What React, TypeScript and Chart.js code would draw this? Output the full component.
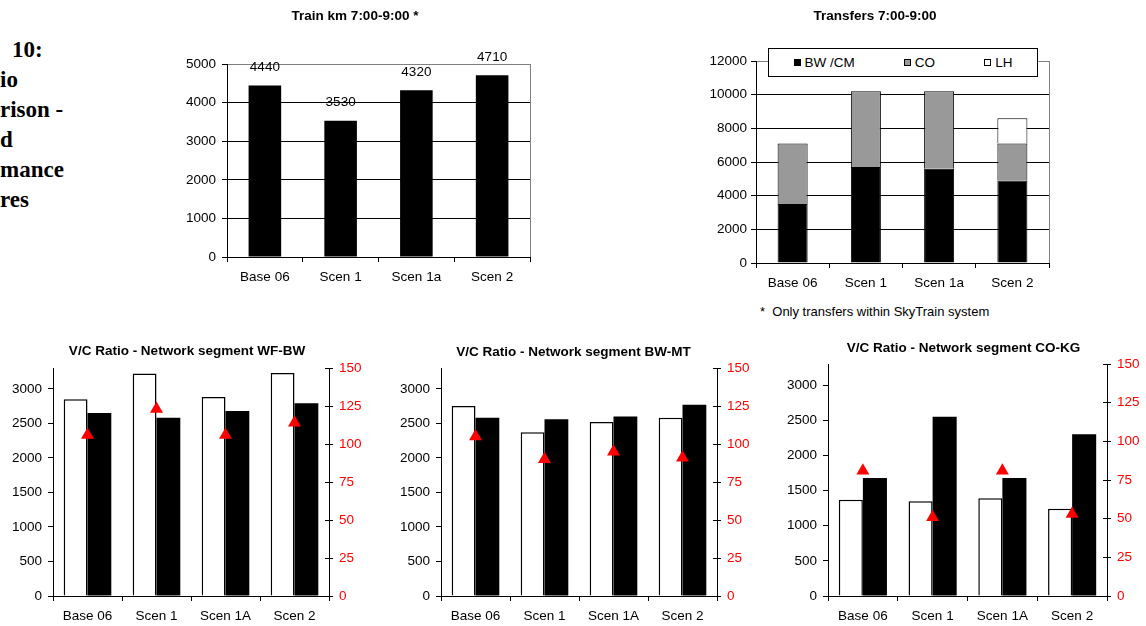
import React, { useEffect, useRef } from 'react';
import { Chart, registerables } from 'chart.js';

Chart.register(...registerables);

// ---------- data ----------
const headingLines = ['10:', 'io', 'rison -', 'd', 'mance', 'res'];

const trainCategories = ['Base 06', 'Scen 1', 'Scen 1a', 'Scen 2'];
const trainKm = [4440, 3530, 4320, 4710];

const transferCategories = ['Base 06', 'Scen 1', 'Scen 1a', 'Scen 2'];
const transferSeries = ['BW /CM', 'CO', 'LH'];
const transferColors = ['#000000', '#999999', '#FFFFFF'];
const transfersBWCM = [3500, 5700, 5600, 4900];
const transfersCO = [3600, 4500, 4600, 2200];
const transfersLH = [null, null, null, 1500];
const transferNote = '*  Only transfers within SkyTrain system';

const vcCategories = ['Base 06', 'Scen 1', 'Scen 1A', 'Scen 2'];
const vcLeftTicks = [0, 500, 1000, 1500, 2000, 2500, 3000];
const vcRightTicks = [0, 25, 50, 75, 100, 125, 150];
const wfbwWhite = [2850, 3220, 2880, 3230];
const wfbwBlack = [2650, 2580, 2680, 2790];
const wfbwRatio = [106, 123, 106, 114];
const bwmtWhite = [2750, 2370, 2520, 2580];
const bwmtBlack = [2580, 2560, 2600, 2770];
const bwmtRatio = [105, 90, 95, 91];
const cokgWhite = [1370, 1350, 1390, 1240];
const cokgBlack = [1680, 2550, 1680, 2300];
const cokgRatio = [81, 51, 81, 53];

// ---------- styling helpers ----------
const FONT = '"Liberation Sans", Arial, Helvetica, sans-serif';
const tickFont = { family: FONT, size: 13.5 };
const titleFont = { family: FONT, size: 13.5, weight: 'bold' as const };
const GRAY_LINE = '#808080';
const plainNumber = (v: any) => String(v);

const alignPx = (v: number) => Math.round(v - 0.5) + 0.5;

const rightBorder = {
  id: 'rightBorder',
  beforeDatasetsDraw(chart: any) {
    const { ctx, chartArea: a } = chart;
    ctx.save();
    ctx.strokeStyle = GRAY_LINE;
    ctx.lineWidth = 1;
    const x = alignPx(a.right);
    ctx.beginPath();
    ctx.moveTo(x, a.top);
    ctx.lineTo(x, a.bottom);
    ctx.stroke();
    ctx.restore();
  },
};

const barValueLabels = {
  id: 'barValueLabels',
  afterDatasetsDraw(chart: any) {
    const ctx = chart.ctx;
    const meta = chart.getDatasetMeta(0);
    const data = chart.data.datasets[0].data;
    ctx.save();
    ctx.font = `13.5px ${FONT}`;
    ctx.fillStyle = '#000';
    ctx.textAlign = 'center';
    ctx.textBaseline = 'middle';
    meta.data.forEach((el: any, i: number) => {
      ctx.fillText(String(data[i]), el.x, el.y - 18);
    });
    ctx.restore();
  },
};

const innerRightTicks = {
  id: 'innerRightTicks',
  afterDraw(chart: any) {
    const s = chart.scales.y2;
    if (!s) return;
    const ctx = chart.ctx;
    ctx.save();
    ctx.strokeStyle = '#000';
    ctx.lineWidth = 1;
    ctx.beginPath();
    s.ticks.forEach((t: any) => {
      const y = alignPx(s.getPixelForValue(t.value));
      ctx.moveTo(s.left - 4, y);
      ctx.lineTo(s.left, y);
    });
    ctx.stroke();
    ctx.restore();
  },
};

const fixedTicks = (values: number[]) => (s: any) => {
  s.ticks = values.map((v) => ({ value: v }));
};

const baseOptions = {
  responsive: false,
  animation: false,
  devicePixelRatio: 1,
  events: [] as any[],
};

function categoryAxis(height: number, pad: number) {
  return {
    offset: true,
    grid: { offset: true, drawOnChartArea: false, tickLength: 5, color: '#000', lineWidth: 1 },
    border: { color: '#000', width: 1 },
    ticks: { color: '#000', font: tickFont, padding: pad, maxRotation: 0, autoSkip: false },
    afterFit: (s: any) => {
      s.height = height;
    },
  };
}

// ---------- chart configs ----------
function trainConfig(): any {
  return {
    type: 'bar',
    data: {
      labels: trainCategories,
      datasets: [
        {
          label: 'Train km',
          data: trainKm,
          backgroundColor: '#000',
          borderWidth: 0,
          barPercentage: 1,
          categoryPercentage: 0.43,
        },
      ],
    },
    options: {
      ...baseOptions,
      layout: { padding: { left: 0, right: 20, top: 0, bottom: 0 } },
      plugins: {
        legend: { display: false },
        tooltip: { enabled: false },
        title: {
          display: true,
          text: 'Train km 7:00-9:00 *',
          color: '#000',
          font: titleFont,
          padding: { top: 7.9, bottom: 39.9 },
        },
      },
      scales: {
        x: categoryAxis(43, 7),
        y: {
          min: 0,
          max: 5000,
          ticks: { stepSize: 1000, color: '#000', font: tickFont, padding: 6, callback: plainNumber },
          grid: {
            color: (c: any) => (c.tick && c.tick.value === 5000 ? GRAY_LINE : '#000'),
            tickColor: '#000',
            tickLength: 5,
          },
          border: { color: '#000' },
          afterFit: (s: any) => {
            s.width = 47;
          },
        },
      },
    },
    plugins: [rightBorder, barValueLabels],
  };
}

function transferConfig(): any {
  const series = [transfersBWCM, transfersCO, transfersLH];
  return {
    type: 'bar',
    data: {
      labels: transferCategories,
      datasets: series.map((d, i) => ({
        label: transferSeries[i],
        data: d,
        backgroundColor: transferColors[i],
        borderColor: '#000',
        borderWidth: 1,
        barPercentage: 1,
        categoryPercentage: 0.41,
      })),
    },
    options: {
      ...baseOptions,
      layout: { padding: { left: 0, right: 97, top: 0, bottom: 0 } },
      plugins: {
        legend: { display: false },
        tooltip: { enabled: false },
        title: {
          display: true,
          text: 'Transfers 7:00-9:00',
          color: '#000',
          font: titleFont,
          padding: { top: 7.9, bottom: 36.9 },
        },
      },
      scales: {
        x: { ...categoryAxis(37, 7), stacked: true },
        y: {
          stacked: true,
          min: 0,
          max: 12000,
          ticks: { stepSize: 2000, color: '#000', font: tickFont, padding: 4, callback: plainNumber },
          grid: {
            color: (c: any) => (c.tick && c.tick.value === 12000 ? GRAY_LINE : '#000'),
            tickColor: '#000',
            tickLength: 5,
          },
          border: { color: '#000' },
          afterFit: (s: any) => {
            s.width = 55;
          },
        },
      },
    },
    plugins: [rightBorder],
  };
}

function vcConfig(
  title: string,
  white: number[],
  black: number[],
  ratio: number[],
  yL: number,
  yR: number,
  padTop: number,
  padBottom: number,
  xHeight: number
): any {
  return {
    type: 'bar',
    data: {
      labels: vcCategories,
      datasets: [
        {
          type: 'bar',
          label: 'Capacity',
          data: white,
          backgroundColor: '#fff',
          borderColor: '#000',
          borderWidth: 1.5,
          barPercentage: 1,
          categoryPercentage: 0.69,
          yAxisID: 'y',
          order: 1,
        },
        {
          type: 'bar',
          label: 'Volume',
          data: black,
          backgroundColor: '#000',
          borderColor: '#000',
          borderWidth: 0,
          barPercentage: 1,
          categoryPercentage: 0.69,
          yAxisID: 'y',
          order: 1,
        },
        {
          type: 'line',
          label: 'V/C',
          data: ratio,
          yAxisID: 'y2',
          showLine: false,
          pointStyle: 'triangle',
          pointRadius: 7.5,
          pointBackgroundColor: '#ff0000',
          pointBorderColor: '#ff0000',
          pointBorderWidth: 0,
          order: 0,
        },
      ],
    },
    options: {
      ...baseOptions,
      layout: { padding: 0 },
      plugins: {
        legend: { display: false },
        tooltip: { enabled: false },
        title: {
          display: true,
          text: title,
          color: '#000',
          font: titleFont,
          padding: { top: padTop, bottom: padBottom },
        },
      },
      scales: {
        x: categoryAxis(xHeight, 7),
        y: {
          position: 'left',
          min: 0,
          max: 3300,
          afterBuildTicks: fixedTicks(vcLeftTicks),
          ticks: { color: '#000', font: tickFont, padding: 6, callback: plainNumber },
          grid: { drawOnChartArea: false, tickLength: 5, color: '#000' },
          border: { color: '#000' },
          afterFit: (s: any) => {
            s.width = yL;
          },
        },
        y2: {
          position: 'right',
          min: 0,
          max: 150,
          afterBuildTicks: fixedTicks(vcRightTicks),
          ticks: { color: '#ff0000', font: tickFont, padding: 6, callback: plainNumber },
          grid: { drawOnChartArea: false, tickLength: 4, color: '#000' },
          border: { color: '#000' },
          afterFit: (s: any) => {
            s.width = yR;
          },
        },
      },
    },
    plugins: [innerRightTicks],
  };
}

// ---------- components ----------
function ChartCanvas(props: { left: number; top: number; width: number; height: number; build: () => any }) {
  const { left, top, width, height, build } = props;
  const ref = useRef<HTMLCanvasElement>(null);
  useEffect(() => {
    if (!ref.current) return;
    const chart = new Chart(ref.current, build());
    return () => chart.destroy();
  }, []);
  return (
    <canvas
      ref={ref}
      width={width}
      height={height}
      style={{ position: 'absolute', left, top, width, height, display: 'block' }}
    />
  );
}

function TransferLegend() {
  return (
    <div
      style={{
        position: 'absolute',
        left: 768,
        top: 48,
        width: 268,
        height: 27,
        border: '1px solid #000',
        background: '#fff',
        display: 'flex',
        alignItems: 'center',
        justifyContent: 'space-around',
        font: `13.5px ${FONT}`,
        color: '#000',
      }}
    >
      {transferSeries.map((s, i) => (
        <div key={s} style={{ display: 'flex', alignItems: 'center', whiteSpace: 'pre' }}>
          <span
            style={{
              display: 'inline-block',
              width: 5,
              height: 5,
              border: '1px solid #000',
              background: transferColors[i],
              marginRight: 4,
            }}
          />
          <span>{s}</span>
        </div>
      ))}
    </div>
  );
}

export default function App() {
  return (
    <div
      style={{
        position: 'fixed',
        left: 0,
        top: 0,
        width: 1146,
        height: 626,
        overflow: 'hidden',
        background: '#fff',
      }}
    >
      <div
        style={{
          position: 'absolute',
          left: 0,
          top: 35,
          font: 'bold 23px "Liberation Serif", "Times New Roman", serif',
          lineHeight: '30px',
          whiteSpace: 'pre',
          color: '#000',
        }}
      >
        {headingLines.map((l, i) => (
          <div key={i} style={{ paddingLeft: i === 0 ? 12 : 0 }}>
            {l}
          </div>
        ))}
      </div>

      <ChartCanvas left={180} top={0} width={370} height={300} build={trainConfig} />
      <ChartCanvas left={701} top={0} width={445} height={300} build={transferConfig} />
      <TransferLegend />
      <div
        style={{
          position: 'absolute',
          left: 760,
          top: 304,
          font: `13px ${FONT}`,
          lineHeight: '15px',
          whiteSpace: 'pre',
          color: '#000',
        }}
      >
        {transferNote}
      </div>

      <ChartCanvas
        left={0}
        top={330}
        width={374}
        height={296}
        build={() => vcConfig('V/C Ratio - Network segment WF-BW', wfbwWhite, wfbwBlack, wfbwRatio, 53, 45, 12.9, 9.0, 30)}
      />
      <ChartCanvas
        left={390}
        top={330}
        width={367}
        height={296}
        build={() => vcConfig('V/C Ratio - Network segment BW-MT', bwmtWhite, bwmtBlack, bwmtRatio, 51, 40, 14.6, 7.3, 30)}
      />
      <ChartCanvas
        left={781}
        top={330}
        width={365}
        height={296}
        build={() => vcConfig('V/C Ratio - Network segment CO-KG', cokgWhite, cokgBlack, cokgRatio, 47, 39, 10.2, 7.7, 30)}
      />
    </div>
  );
}
